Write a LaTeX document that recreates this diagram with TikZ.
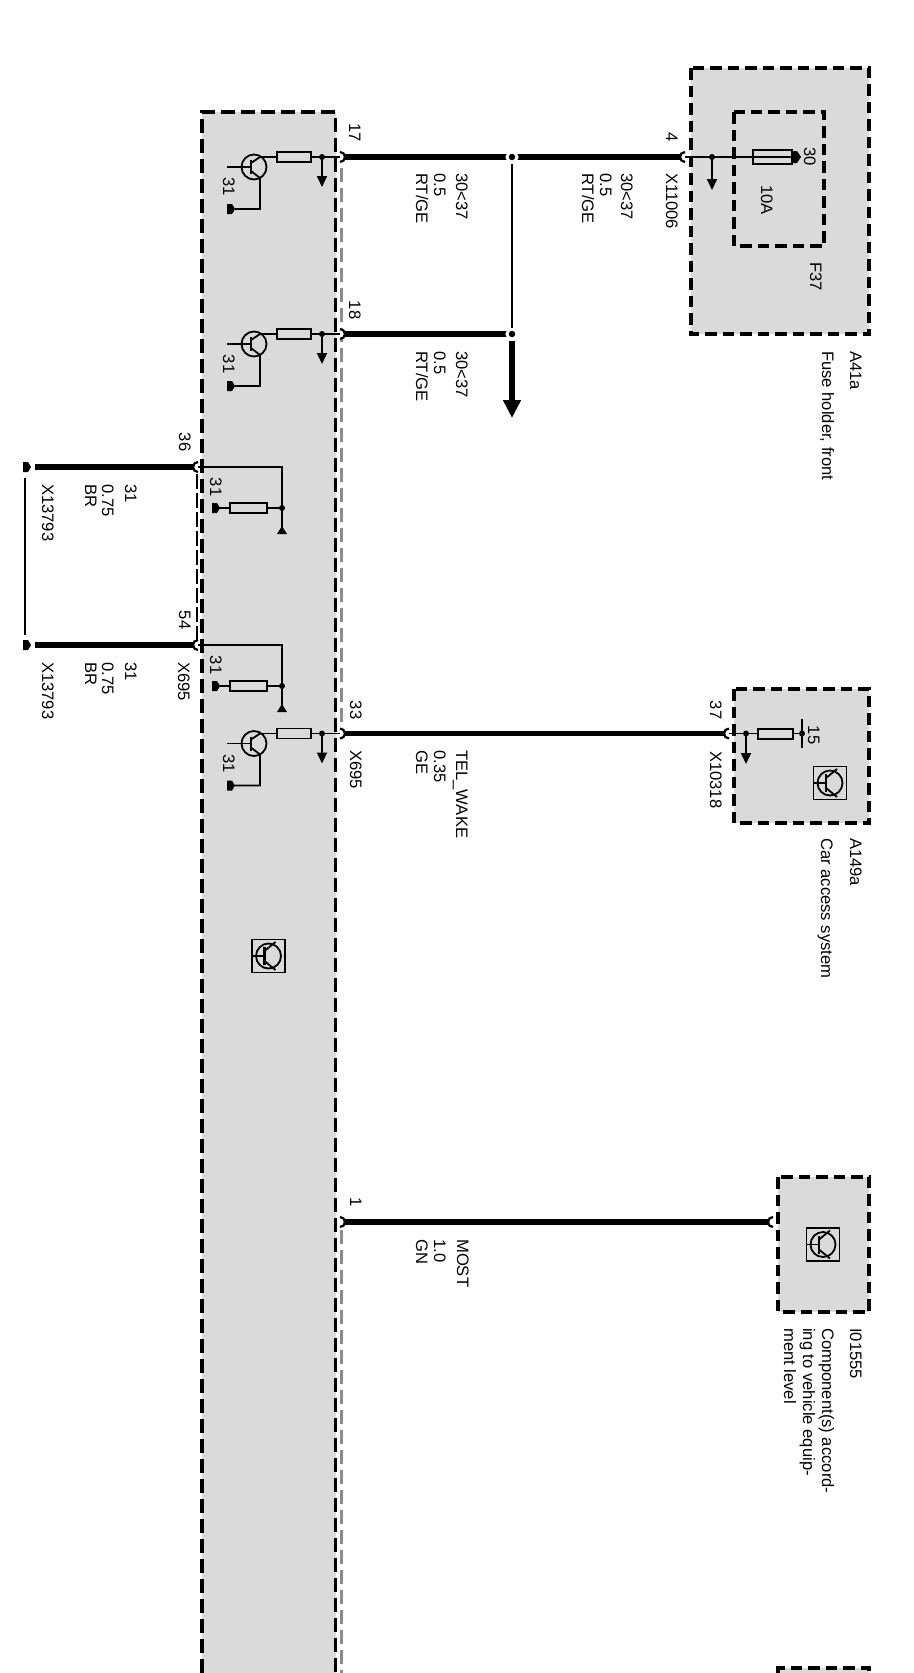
\documentclass[tikz,border=0pt]{standalone}
\usepackage{fontspec}
\setmainfont{Liberation Sans}
\usetikzlibrary{arrows.meta,calc}
\definecolor{boxgray}{HTML}{DADADA}
\definecolor{midgray}{HTML}{8C8C8C}
\tikzset{
  dbox/.style={draw=black,line width=3.5pt,dash pattern=on 11.5pt off 6pt,fill=boxgray},
  dedge/.style={draw=black,line width=3.5pt,dash pattern=on 14pt off 6pt},
  gedge/.style={draw=midgray,line width=3pt,dash pattern=on 14pt off 6pt},
  busdash/.style={draw=black,line width=1.4pt,dash pattern=on 15pt off 4pt},
  wire/.style={draw=black,line width=5.5pt},
  thin wire/.style={draw=black,line width=1.8pt},
  pinarc/.style={draw=black,line width=2.2pt,fill=white},
  resbox/.style={draw=black,line width=1.8pt,fill=boxgray},
  txt/.style={rotate=-90,inner sep=0pt,text height=12pt,text depth=0pt,font=\fontsize{16.6}{19}\selectfont,text=black},
  lbl/.style={txt,anchor=west},
  num/.style={txt,anchor=center},
  jdot/.style={circle,fill=black,draw=white,line width=3pt,inner sep=0pt,minimum size=10pt},
  sdot/.style={circle,fill=black,inner sep=0pt,minimum size=6pt},
  bigarrow/.style={wire,-{Triangle[width=17pt,length=18pt]}},
  smallarrow/.style={thin wire,-{Triangle[width=10pt,length=11pt]}},
  term/.pic={\fill[black] (-8,-5) -- (-3,-5) -- (0,0) -- (-3,5) -- (-8,5) -- cycle;},
  drv/.pic={
    \draw[thin wire] (0,10) circle[radius=12.5pt];
    \draw[thin wire] (-27,10) -- (-3,10);
    \draw[line width=2.4pt] (-3,3) -- (-3,17);
    \draw[thin wire] (-3,6) -- (6,0);
    \draw[thin wire] (-3,14) -- (6,21) -- (6,52) -- (-19,52);
    \draw[thin wire] (6,0) -- (86,0);
    \draw[resbox] (23,-5) rectangle (57,5);
    \node[sdot] (-dot) at (68,0) {};
    \draw[smallarrow] (-dot.center) -- (68,30);
    \pic at (-19,52) {term};
    \node[num] (-g) at (-25,30) {31};
  },
  gndbr/.pic={
    \draw[thin wire] (0,0) -- (84,0) -- (84,62);
    \fill[black] (84,59) -- (89,67) -- (79,67) -- cycle;
    \draw[thin wire] (84,41) -- (18,41);
    \draw[resbox] (32,36) rectangle (69,46);
    \node[sdot] (-dot) at (84,41) {};
    \pic at (22,41) {term};
    \node[num] (-g) at (18,20) {31};
  },
  icon/.pic={
    \draw[thin wire,fill=boxgray] (-16.5,-16.5) rectangle (16.5,16.5);
    \draw[thin wire] (0,0) circle[radius=12.5pt];
    \draw[thin wire] (-16.5,0) -- (-4,0);
    \draw[line width=2.2pt] (-4,-9) -- (-4,9);
    \draw[thin wire] (-4,-5) -- (7,-14);
    \draw[thin wire] (-4,5) -- (7,14);
  },
}
\begin{document}
\begin{tikzpicture}[x=1pt,y=-1pt]
\useasboundingbox (0,0) rectangle (913,1673);
\fill[white] (0,0) rectangle (913,1673);

% coordinates of pins and junctions
\coordinate (p17) at (340,157);
\coordinate (p18) at (340,334);
\coordinate (p33) at (340,733.5);
\coordinate (p1)  at (340,1222);
\coordinate (p4)  at (685,157);
\coordinate (p37) at (729,733.5);
\coordinate (p1r) at (773,1222);
\coordinate (p36) at (198,467);
\coordinate (p54) at (198,645);
\coordinate (j17) at (512,157);
\coordinate (j18) at (512,334);
\coordinate (a18) at (512,418);
\coordinate (e36) at (35,467);
\coordinate (e54) at (35,645);
\coordinate (b36) at (25,478);
\coordinate (b54) at (25,635);

% main box
\fill[boxgray] (202,112) rectangle (335.5,1673);
\draw[dedge] (202,1673) -- (202,112) -- (335.5,112) -- (335.5,1673);
\draw[gedge] (341,168) -- (341,726);
\draw[gedge] (341,1230) -- (341,1673);
\draw[busdash] ($(p36)+(-1,7)$) -- ($(p54)+(-1,-5)$);

% fuse holder
\draw[dbox] (691,68) rectangle (869,334);
\draw[dbox,fill=none] (734,112) rectangle (824,246);
% car access
\draw[dbox] (734,689) rectangle (869,823);
% I01555
\draw[dbox] (778,1177) rectangle (869,1312);
% bottom box
\fill[boxgray] (778,1668) rectangle (869,1673);
\draw[dedge,dash pattern=on 11.5pt off 6pt] (778,1673) -- (778,1668) -- (869,1668) -- (869,1673);

% wires
\draw[wire,line width=6pt] (p17) -- (j17);
\draw[wire,line width=6pt] (j17) -- (p4);
\draw[wire,line width=6pt] (p18) -- (j18);
\draw[wire] (p33) -- (p37);
\draw[wire] (p1) -- (p1r);
\draw[wire,line width=6pt] (e36) -- (p36);
\draw[wire,line width=6pt] (e54) -- (p54);
\draw[thin wire] (b36) -- (b54);

\node[jdot] (jd17) at (j17) {};
\node[jdot] (jd18) at (j18) {};
\draw[thin wire] (jd17) -- (jd18);
\draw[bigarrow] (jd18) -- (a18);

% pin terminals
\draw[pinarc] ([yshift=5pt]p17) arc[start angle=90,end angle=-90,radius=5pt];
\draw[pinarc] ([yshift=5pt]p18) arc[start angle=90,end angle=-90,radius=5pt];
\draw[pinarc] ([yshift=5pt]p33) arc[start angle=90,end angle=-90,radius=5pt];
\draw[pinarc] ([yshift=5pt]p1) arc[start angle=90,end angle=-90,radius=5pt];
\draw[pinarc] ([yshift=5pt]p4) arc[start angle=90,end angle=270,radius=5pt];
\draw[pinarc] ([yshift=5pt]p37) arc[start angle=90,end angle=270,radius=5pt];
\draw[pinarc] ([yshift=5pt]p1r) arc[start angle=90,end angle=270,radius=5pt];
\draw[pinarc] ([yshift=5pt]p36) arc[start angle=90,end angle=270,radius=5pt];
\draw[pinarc] ([yshift=5pt]p54) arc[start angle=90,end angle=270,radius=5pt];

% drivers
\pic (d17) at (254,157) {drv};
\pic (d18) at (254,334) {drv};
\pic (d33) at (254,733.5) {drv};
\pic (g36) at (198,467) {gndbr};
\pic (g54) at (198,645) {gndbr};
\pic at (31,467) {term};
\pic at (31,645) {term};

% fuse holder contents
\draw[thin wire] (p4) -- (792,157);
\node[sdot] (jf) at (712,157) {};
\draw[smallarrow] (jf.center) -- (712,190);
\draw[thin wire,fill=none] (753,150) rectangle (792,164);
\fill[black] (792,151) -- (797,151) -- (801,157) -- (797,163) -- (792,163) -- cycle;

% car access contents
\draw[thin wire] (p37) -- (802,733.5);
\draw[thin wire] (802,719) -- (802,748);
\node[sdot] (jc) at (746,733.5) {};
\node[sdot] (jv) at (802,733.5) {};
\draw[smallarrow] (jc.center) -- (746,764);
\draw[resbox] (758,729) rectangle (793,739);

% icons
\pic (i1) at (830,783) {icon};
\pic (i2) at (268.5,956) {icon};
\pic (i3) at (823,1244.5) {icon};

% labels
\node[num] (n17) at (355,133) {17};
\node[num] (n18) at (355,310) {18};
\node[num] (n4) at (672,137) {4};
\node[num] (n33) at (356,710) {33};
\node[num] (n37) at (716,710) {37};
\node[num] (n1) at (356,1202) {1};
\node[num] (n36) at (185,442) {36};
\node[num] (n54) at (185,620) {54};
\node[num] (n30) at (810,157) {30};
\node[num] (n15) at (814,735) {15};

\node[lbl] (t1) at (462,173) {30<37};
\node[lbl] (t2) at (440,173) {0.5};
\node[lbl] (t3) at (422,173) {RT/GE};
\node[lbl] (t4) at (627,173) {30<37};
\node[lbl] (t5) at (606,173) {0.5};
\node[lbl] (t6) at (588,173) {RT/GE};
\node[lbl] (t7) at (672,173) {X11006};
\node[lbl] (t8) at (462,351) {30<37};
\node[lbl] (t9) at (440,351) {0.5};
\node[lbl] (t10) at (422,351) {RT/GE};
\node[lbl] (t11) at (767,185) {10A};
\node[lbl] (t12) at (816,262) {F37};
\node[lbl] (t13) at (856,351) {A41a};
\node[lbl] (t14) at (828,351) {Fuse holder, front};

\node[lbl] (t15) at (131,484) {31};
\node[lbl] (t16) at (108,484) {0.75};
\node[lbl] (t17) at (91,484) {BR};
\node[lbl] (t18) at (48,484) {X13793};
\node[lbl] (t19) at (131,662) {31};
\node[lbl] (t20) at (108,662) {0.75};
\node[lbl] (t21) at (91,662) {BR};
\node[lbl] (t22) at (48,662) {X13793};
\node[lbl] (t23) at (184,662) {X695};

\node[lbl] (t24) at (356,750) {X695};
\node[lbl] (t25) at (462,750) {TEL\_WAKE};
\node[lbl] (t26) at (440,750) {0.35};
\node[lbl] (t27) at (422,750) {GE};
\node[lbl] (t28) at (716,751) {X10318};
\node[lbl] (t29) at (856,838) {A149a};
\node[lbl] (t30) at (827,838) {Car access system};

\node[lbl] (t31) at (463,1239) {MOST};
\node[lbl] (t32) at (440,1239) {1.0};
\node[lbl] (t33) at (422,1239) {GN};
\node[lbl] (t34) at (856,1328) {I01555};
\node[lbl] (t35) at (828,1328) {Component(s) accord-};
\node[lbl] (t36) at (809,1328) {ing to vehicle equip-};
\node[lbl] (t37) at (790,1328) {ment level};
\end{tikzpicture}
\end{document}
